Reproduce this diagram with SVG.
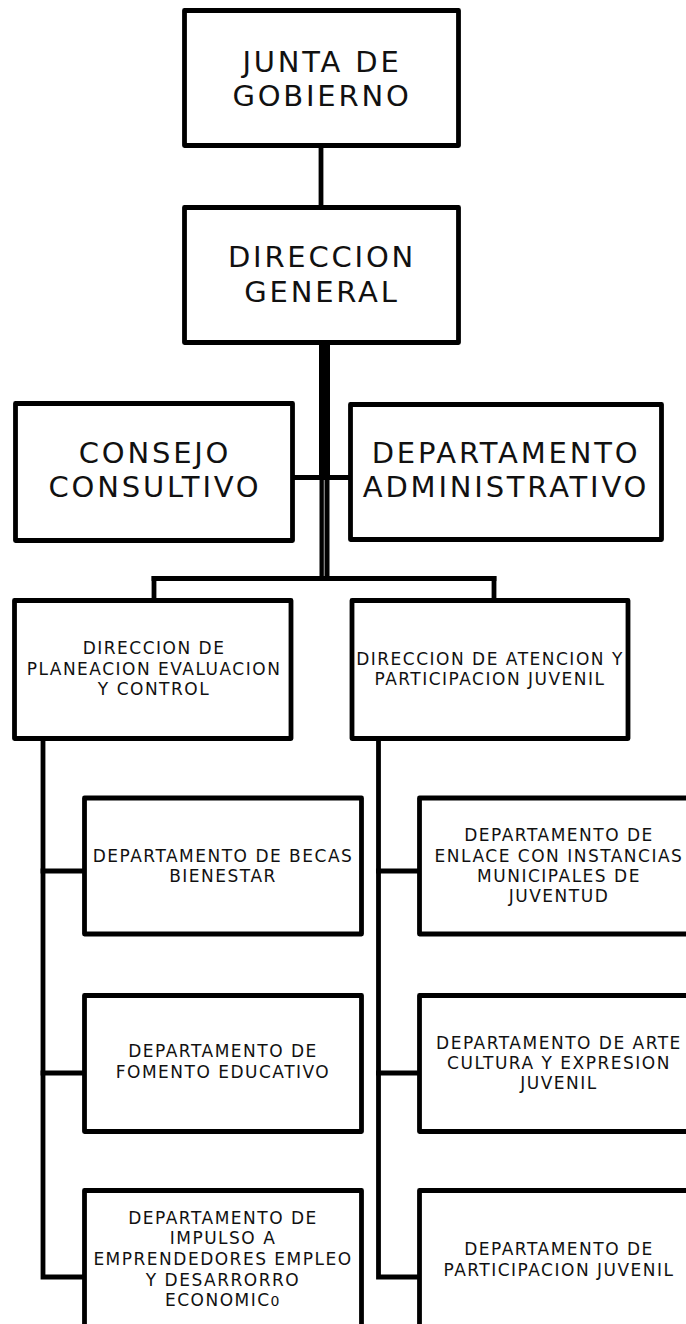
<svg xmlns="http://www.w3.org/2000/svg" width="686" height="1324" viewBox="0 0 686 1324">
<style>
.box{fill:#fff;stroke:#000;stroke-width:4.8;stroke-linejoin:round}
.ln{stroke:#000;stroke-width:4.8;fill:none;stroke-linecap:square}
.big{font-family:"DejaVu Sans","Liberation Sans",sans-serif;font-size:29px;letter-spacing:2.8px;fill:#111;text-anchor:middle}
.sm{font-family:"DejaVu Sans","Liberation Sans",sans-serif;font-size:17px;letter-spacing:1.5px;fill:#111;text-anchor:middle}
</style>
<rect width="686" height="1324" fill="#fff"/>
<g id="connectors">
<line class="ln" x1="321" y1="148" x2="321" y2="205"/>
<rect x="319" y="344" width="11" height="134" fill="#000"/>
<rect x="319.5" y="476" width="10" height="103" fill="#000"/>
<line x1="324.3" y1="480" x2="324.3" y2="576" stroke="#8a8a8a" stroke-width="1.2"/>
<line class="ln" x1="294" y1="477.5" x2="350" y2="477.5"/>
<line class="ln" x1="154" y1="578.5" x2="494" y2="578.5"/>
<line class="ln" x1="154" y1="578.5" x2="154" y2="598"/>
<line class="ln" x1="494" y1="578.5" x2="494" y2="598"/>
<polyline class="ln" points="43,740 43,1277 84,1277"/>
<line class="ln" x1="43" y1="871" x2="84" y2="871"/>
<line class="ln" x1="43" y1="1073" x2="84" y2="1073"/>
<polyline class="ln" points="378.5,740 378.5,1277 419,1277"/>
<line class="ln" x1="378.5" y1="871" x2="419" y2="871"/>
<line class="ln" x1="378.5" y1="1073" x2="419" y2="1073"/>
</g>
<g id="junta">
<rect class="box" x="184.5" y="10.5" width="274" height="135"/>
<text class="big"><tspan x="322" y="72">JUNTA DE</tspan><tspan x="322" y="106">GOBIERNO</tspan></text>
</g>
<g id="direccion-general">
<rect class="box" x="184.5" y="207.5" width="274" height="135"/>
<text class="big"><tspan x="322" y="267">DIRECCION</tspan><tspan x="322" y="302">GENERAL</tspan></text>
</g>
<g id="consejo">
<rect class="box" x="15.5" y="403.5" width="277" height="137"/>
<text class="big"><tspan x="155" y="463">CONSEJO</tspan><tspan x="155" y="497">CONSULTIVO</tspan></text>
</g>
<g id="depto-administrativo">
<rect class="box" x="350.5" y="404.5" width="311" height="135"/>
<text class="big"><tspan x="506" y="463">DEPARTAMENTO</tspan><tspan x="506" y="497">ADMINISTRATIVO</tspan></text>
</g>
<g id="dir-planeacion">
<rect class="box" x="14.5" y="600.5" width="276.5" height="138"/>
<text class="sm"><tspan x="154" y="654">DIRECCION DE</tspan><tspan x="154" y="675">PLANEACION EVALUACION</tspan><tspan x="154" y="695">Y CONTROL</tspan></text>
</g>
<g id="dir-atencion">
<rect class="box" x="352" y="600.5" width="276" height="138"/>
<text class="sm"><tspan x="490" y="665">DIRECCION DE ATENCION Y</tspan><tspan x="490" y="685">PARTICIPACION JUVENIL</tspan></text>
</g>
<g id="becas">
<rect class="box" x="84.5" y="798" width="277" height="136"/>
<text class="sm"><tspan x="223" y="862">DEPARTAMENTO DE BECAS</tspan><tspan x="223" y="882">BIENESTAR</tspan></text>
</g>
<g id="fomento">
<rect class="box" x="84.5" y="995.5" width="277" height="136"/>
<text class="sm"><tspan x="223" y="1057">DEPARTAMENTO DE</tspan><tspan x="223" y="1078">FOMENTO EDUCATIVO</tspan></text>
</g>
<g id="impulso">
<rect class="box" x="84.5" y="1190.5" width="277" height="200"/>
<text class="sm"><tspan x="223" y="1224">DEPARTAMENTO DE</tspan><tspan x="223" y="1244">IMPULSO A</tspan><tspan x="223" y="1265">EMPRENDEDORES EMPLEO</tspan><tspan x="223" y="1286">Y DESARRORRO</tspan><tspan x="223" y="1306">ECONOMIC<tspan font-size="14px">0</tspan></tspan></text>
</g>
<g id="enlace">
<rect class="box" x="419.5" y="798" width="300" height="136"/>
<text class="sm"><tspan x="559" y="841">DEPARTAMENTO DE</tspan><tspan x="559" y="862">ENLACE CON INSTANCIAS</tspan><tspan x="559" y="882">MUNICIPALES DE</tspan><tspan x="559" y="902">JUVENTUD</tspan></text>
</g>
<g id="arte">
<rect class="box" x="419.5" y="995.5" width="300" height="136"/>
<text class="sm"><tspan x="559" y="1049">DEPARTAMENTO DE ARTE</tspan><tspan x="559" y="1069">CULTURA Y EXPRESION</tspan><tspan x="559" y="1089">JUVENIL</tspan></text>
</g>
<g id="participacion">
<rect class="box" x="419.5" y="1190.5" width="300" height="200"/>
<text class="sm"><tspan x="559" y="1255">DEPARTAMENTO DE</tspan><tspan x="559" y="1276">PARTICIPACION JUVENIL</tspan></text>
</g>
</svg>
